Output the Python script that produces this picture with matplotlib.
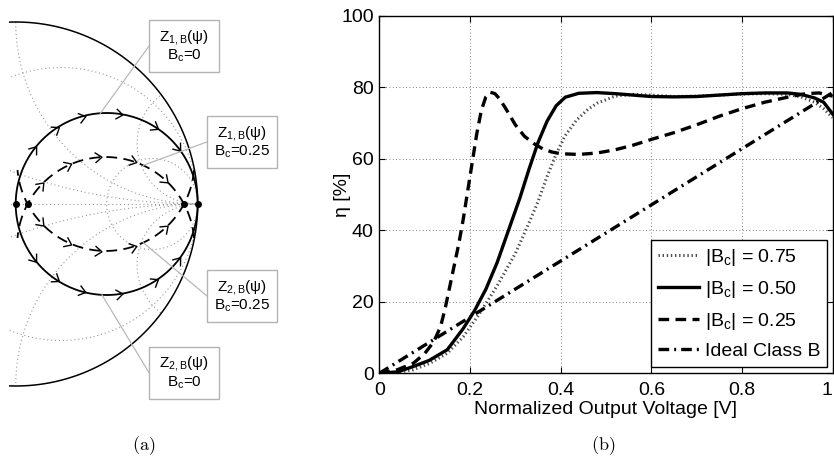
import numpy as np
import matplotlib.pyplot as plt
from matplotlib.patches import Circle, Rectangle
from matplotlib.path import Path
from matplotlib.markers import MarkerStyle
from matplotlib.transforms import Affine2D

plt.rcParams['font.family'] = ['Liberation Sans', 'DejaVu Sans']
plt.rcParams['mathtext.fontset'] = 'custom'
plt.rcParams['mathtext.rm'] = 'Liberation Sans'
plt.rcParams['mathtext.it'] = 'Liberation Sans:italic'

# ---- (b) drain efficiency vs normalized output voltage ----
v_075 = [0, 0.04, 0.075, 0.11, 0.15, 0.185, 0.22, 0.26, 0.30, 0.33, 0.35, 0.37, 0.39,
         0.41, 0.435, 0.46, 0.48, 0.52, 0.56, 0.60, 0.65, 0.70, 0.75, 0.80, 0.85, 0.90,
         0.93, 0.96, 0.98, 1.0]
eta_075 = [0, 0.3, 1.0, 2.7, 5.6, 10.2, 16.5, 24.5, 33.5, 42, 48, 55, 61.3,
           66.5, 70.8, 73.8, 75.5, 77.5, 78.0, 77.8, 77.4, 77.5, 77.8, 78.1, 78.2, 78.0,
           77.3, 75.8, 74.0, 71.5]

v_050 = [0, 0.04, 0.075, 0.11, 0.15, 0.185, 0.21, 0.235, 0.26, 0.285, 0.31, 0.33, 0.35,
         0.37, 0.39, 0.41, 0.44, 0.48, 0.52, 0.56, 0.60, 0.65, 0.70, 0.75, 0.80, 0.85,
         0.90, 0.93, 0.96, 0.98, 1.0]
eta_050 = [0, 0.4, 1.9, 3.6, 6.6, 12.5, 17.5, 23.5, 31, 40, 49, 57, 64.5,
           70.5, 74.8, 77.2, 78.3, 78.5, 78.2, 77.8, 77.4, 77.3, 77.4, 77.8, 78.2, 78.4,
           78.4, 78.0, 77.0, 75.8, 72.5]

v_025 = [0, 0.04, 0.075, 0.10, 0.12, 0.135, 0.145, 0.155, 0.165, 0.175, 0.185, 0.195,
         0.205, 0.215, 0.225, 0.235, 0.245, 0.255, 0.265, 0.28, 0.30, 0.32, 0.34, 0.36,
         0.38, 0.40, 0.44, 0.48, 0.52, 0.56, 0.60, 0.65, 0.70, 0.75, 0.80, 0.85, 0.90,
         0.94, 0.97, 1.0]
eta_025 = [0, 1.0, 2.8, 5.5, 8.8, 13, 18, 24, 30, 36, 43, 51,
           59, 67, 73.5, 77.3, 78.6, 78.2, 76.8, 73.8, 69.5, 66.3, 64.3, 62.8,
           61.9, 61.4, 61.2, 61.6, 62.5, 63.8, 65.4, 67.3, 69.5, 71.9, 74.0, 75.8, 77.2,
           78.2, 78.4, 77.5]

v_classb = [0, 1.0]
eta_classb = [0, 78.5]

labels_b = [r'|B$_\mathregular{c}$| = 0.75', r'|B$_\mathregular{c}$| = 0.50',
            r'|B$_\mathregular{c}$| = 0.25', 'Ideal Class B']
xticks_b = [0, 0.2, 0.4, 0.6, 0.8, 1.0]
xticklabels_b = ['0', '0.2', '0.4', '0.6', '0.8', '1']
yticks_b = [0, 20, 40, 60, 80, 100]

# ---- (a) impedance loci on the reflection-coefficient plane ----
grid_r = [1/3, 1, 3]
grid_x = [1/3, 1, 3, -1/3, -1, -3]
# B_c = 0 : Z1 (upper half) and Z2 (lower half) of the r = 1 circle
b0_center = 0.5
b0_radius = 0.5
b0_arrow_deg = [143, 124, 106, 82, 58, 38]
# B_c = 0.25 : two shifted circular arcs
b25_cx = 0.495
b25_cy = 0.229
b25_radius = 0.487
b25_span_deg = [5, 175]
b25_arrow_deg = [137, 115, 95, 72, 48]

box_text = ['Z$_\\mathregular{1,B}$(ψ)\nB$_\\mathregular{c}$=0',
            'Z$_\\mathregular{1,B}$(ψ)\nB$_\\mathregular{c}$=0.25',
            'Z$_\\mathregular{2,B}$(ψ)\nB$_\\mathregular{c}$=0.25',
            'Z$_\\mathregular{2,B}$(ψ)\nB$_\\mathregular{c}$=0']
box_xy = [(0.925, 0.868), (1.243, 0.341), (1.243, -0.505), (0.925, -0.927)]
# which locus each label points at, and where on it (degrees about its centre)
box_target = [('b0', 94), ('b25u', 65), ('b25l', -65), ('b0', -93)]

FS = 14


def circle_pts(cx, cy, rad, a0, a1, n=400):
    t = np.radians(np.linspace(a0, a1, n))
    return cx + rad * np.cos(t), cy + rad * np.sin(t)


def chevron(angle):
    p = Path([(-0.5, 0.75), (0.5, 0.0), (-0.5, -0.75)],
             [Path.MOVETO, Path.LINETO, Path.LINETO])
    return MarkerStyle(p, fillstyle='none', transform=Affine2D().rotate_deg(angle))


def locus_point(name, deg):
    t = np.radians(deg)
    if name == 'b0':
        return b0_center + b0_radius * np.cos(t), b0_radius * np.sin(t)
    cy = -b25_cy if name == 'b25u' else b25_cy
    return b25_cx + b25_radius * np.cos(t), cy + b25_radius * np.sin(t)


fig = plt.figure(figsize=(8.34, 4.57), dpi=100)

# ------------------------------------------------------------------ (a)
R_PX = 182.0   # pixels per unit |Gamma|
X0_PX = 15.7   # Gamma = 0 position
Y0_PX = 204.0
left_px = 8.5
ax_a = fig.add_axes([left_px / 834, 0, (280 - left_px) / 834, 1])
ax_a.set_xlim((left_px - X0_PX) / R_PX, (280 - X0_PX) / R_PX)
ax_a.set_ylim((Y0_PX - 457) / R_PX, Y0_PX / R_PX)
ax_a.axis('off')

unit = Circle((0, 0), 1, transform=ax_a.transData)
gs = dict(color='0.6', lw=0.8, ls=(0, (1, 2.5)))
for r in grid_r:
    x, y = circle_pts(r / (1 + r), 0, 1 / (1 + r), 0, 360)
    ln, = ax_a.plot(x, y, **gs)
    ln.set_clip_path(unit)
for xv in grid_x:
    x, y = circle_pts(1, 1 / xv, 1 / abs(xv), 0, 360, 1500)
    ln, = ax_a.plot(x, y, **gs)
    ln.set_clip_path(unit)
ax_a.plot([-1, 1], [0, 0], **gs)

x, y = circle_pts(0, 0, 1, 0, 360, 800)
ax_a.plot(x, y, color='k', lw=1.1)

# B_c = 0
x, y = circle_pts(b0_center, 0, b0_radius, 0, 360)
ax_a.plot(x, y, color='k', lw=1.3)
for a in b0_arrow_deg:
    for sgn in (1, -1):
        px, py = locus_point('b0', sgn * a)
        ax_a.plot(px, py, marker=chevron(sgn * a - sgn * 90), ms=7.5, mec='k', mew=1.0,
                  ls='none')

# B_c = 0.25
x, y = circle_pts(b25_cx, -b25_cy, b25_radius, *b25_span_deg)
ax_a.plot(x, y, color='k', lw=1.3, dashes=(6, 3.5))
x, y = circle_pts(b25_cx, b25_cy, b25_radius, -b25_span_deg[0], -b25_span_deg[1])
ax_a.plot(x, y, color='k', lw=1.3, dashes=(6, 3.5))
for a in b25_arrow_deg:
    px, py = locus_point('b25u', a)
    ax_a.plot(px, py, marker=chevron(a - 90), ms=7.5, mec='k', mew=1.0, ls='none')
    px, py = locus_point('b25l', -a)
    ax_a.plot(px, py, marker=chevron(-a + 90), ms=7.5, mec='k', mew=1.0, ls='none')

# end points of the loci on the real axis
half_chord = np.sqrt(b25_radius ** 2 - b25_cy ** 2)
dots = [b0_center - b0_radius, b25_cx - half_chord, b25_cx + half_chord,
        b0_center + b0_radius]
ax_a.plot(dots, np.zeros(len(dots)), 'o', color='k', ms=4, zorder=4)

bw, bh = 70 / R_PX, 52 / R_PX
for txt, (cx, cy), (name, deg) in zip(box_text, box_xy, box_target):
    tx, ty = locus_point(name, deg)
    ax_a.plot([cx - bw / 2, tx], [cy, ty], color='0.72', lw=0.9, zorder=5)
    ax_a.add_patch(Rectangle((cx - bw / 2, cy - bh / 2), bw, bh, fc='white',
                             ec='0.7', lw=1.0, zorder=6))
    ax_a.text(cx, cy, txt, ha='center', va='center', fontsize=11, linespacing=1.1,
              zorder=7)

# ------------------------------------------------------------------ (b)
ax_b = fig.add_axes([379.3 / 834, 83.7 / 457, 453.4 / 834, 357.6 / 457])
ax_b.plot(v_075, eta_075, color='0.3', lw=2.2, ls=(0, (0.45, 0.9)), label=labels_b[0])
ax_b.plot(v_050, eta_050, color='k', lw=2.4, label=labels_b[1])
ax_b.plot(v_025, eta_025, color='k', lw=2.4, dashes=(3.2, 1.9), label=labels_b[2])
ax_b.plot(v_classb, eta_classb, color='k', lw=2.4, dashes=(3.2, 1.5, 0.6, 1.5),
          label=labels_b[3])

ax_b.set_xlim(0, 1)
ax_b.set_ylim(0, 100)
ax_b.set_xticks(xticks_b)
ax_b.set_xticklabels(xticklabels_b)
ax_b.set_yticks(yticks_b)
ax_b.get_xticklabels()[-1].set_horizontalalignment('right')
ax_b.grid(True, color='0.35', lw=0.6, ls=(0, (1, 3)))
ax_b.tick_params(direction='in', top=True, right=True, length=4, width=0.8,
                 labelsize=FS, pad=4)
ax_b.tick_params(axis='x', pad=6)
for s in ax_b.spines.values():
    s.set_linewidth(1.0)
ax_b.set_xlabel('Normalized Output Voltage [V]', fontsize=FS, labelpad=2)
ax_b.set_ylabel('η [%]', fontsize=FS)
ax_b.yaxis.set_label_coords(-0.062, 0.5)

leg = ax_b.legend(loc='lower right', bbox_to_anchor=(0.987, 0.0185), borderaxespad=0,
                  fancybox=False, framealpha=1, edgecolor='k', fontsize=FS,
                  handlelength=2.1, handletextpad=0.3, labelspacing=0.55,
                  borderpad=0.35)
leg.get_frame().set_linewidth(1.0)

fig.text(144 / 834, 1 - 446 / 457, r'$\mathrm{(a)}$', math_fontfamily='cm',
         fontsize=13, ha='center', va='center')
fig.text(603 / 834, 1 - 446 / 457, r'$\mathrm{(b)}$', math_fontfamily='cm',
         fontsize=13, ha='center', va='center')

fig.savefig('out.png', dpi=100, facecolor='white')
